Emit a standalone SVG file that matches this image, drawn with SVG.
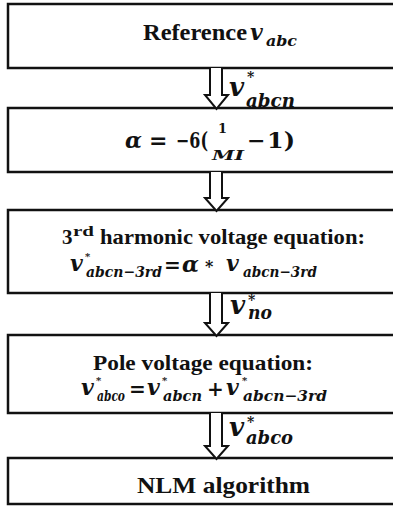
<svg xmlns="http://www.w3.org/2000/svg" width="393" height="513" viewBox="0 0 393 513">
<style>
.box{fill:#fff;stroke:#111;stroke-width:2.5}
.arr{fill:#fff;stroke:#111;stroke-width:2;stroke-linejoin:miter}
.t{font-family:"Liberation Serif","Times New Roman",serif;font-weight:bold;fill:#111}
.m{font-family:"DejaVu Serif",serif;font-weight:bold;font-style:italic;fill:#111}
.n{font-family:"DejaVu Serif",serif;font-weight:bold;font-style:normal;fill:#111}
</style>
<rect width="393" height="513" fill="#fff"/>
<g id="n1">
<rect class="box" x="8" y="4" width="400" height="64"/>
<text class="t" x="143" y="40" font-size="23" textLength="104" lengthAdjust="spacingAndGlyphs">Reference</text>
<text class="m" x="250" y="40" font-size="22">v<tspan x="266" y="46" font-size="15" textLength="31" lengthAdjust="spacingAndGlyphs">abc</tspan></text>
</g>
<g id="n2">
<rect class="box" x="8" y="108" width="400" height="64"/>
<text class="m" x="125" y="148" font-size="22">α<tspan class="n" x="149" y="148">=</tspan><tspan class="n" x="176" y="148" textLength="32" lengthAdjust="spacingAndGlyphs">−6(</tspan><tspan class="n" x="218" y="133" font-size="13">1</tspan><tspan x="212" y="160" font-size="13" textLength="32" lengthAdjust="spacingAndGlyphs">MI</tspan><tspan class="n" x="247" y="148">−</tspan><tspan class="n" x="267" y="148" textLength="28" lengthAdjust="spacingAndGlyphs">1)</tspan></text>
</g>
<g id="n3">
<rect class="box" x="8" y="210" width="400" height="83"/>
<text class="t" x="62" y="244" font-size="21">3<tspan x="73" y="236" font-size="15" textLength="21" lengthAdjust="spacingAndGlyphs">rd</tspan><tspan x="100" y="244" textLength="265" lengthAdjust="spacingAndGlyphs">harmonic voltage equation:</tspan></text>
<text class="m" x="70" y="271" font-size="22">v<tspan class="n" x="85" y="260" font-size="10">*</tspan><tspan x="86" y="277" font-size="15" textLength="76" lengthAdjust="spacingAndGlyphs">abcn−3rd</tspan><tspan class="n" x="164" y="272" font-size="20">=</tspan><tspan x="182" y="272">α</tspan><tspan class="n" x="205" y="272" font-size="16">*</tspan><tspan x="226" y="271">v</tspan><tspan x="243" y="277" font-size="15" textLength="74" lengthAdjust="spacingAndGlyphs">abcn−3rd</tspan></text>
</g>
<g id="n4">
<rect class="box" x="8" y="335" width="400" height="78"/>
<text class="t" x="93" y="370" font-size="21" textLength="220" lengthAdjust="spacingAndGlyphs">Pole voltage equation:</text>
<text class="m" x="81" y="395" font-size="22">v<tspan class="n" x="96" y="384" font-size="10">*</tspan><tspan x="97" y="401" font-size="15" textLength="28" lengthAdjust="spacingAndGlyphs">abco</tspan><tspan class="n" x="129" y="396" font-size="20">=</tspan><tspan x="147" y="395">v</tspan><tspan class="n" x="162" y="384" font-size="10">*</tspan><tspan x="163" y="401" font-size="15" textLength="39" lengthAdjust="spacingAndGlyphs">abcn</tspan><tspan class="n" x="207" y="396" font-size="20">+</tspan><tspan x="226" y="395">v</tspan><tspan class="n" x="242" y="384" font-size="10">*</tspan><tspan x="243" y="401" font-size="15" textLength="84" lengthAdjust="spacingAndGlyphs">abcn−3rd</tspan></text>
</g>
<g id="n5">
<rect class="box" x="8" y="458" width="400" height="46"/>
<text class="t" x="137" y="493" font-size="23" textLength="173" lengthAdjust="spacingAndGlyphs">NLM algorithm</text>
</g>
<g id="connectors">
<path class="arr" d="M210,68V95H205L216.5,109L228,95H222V68"/>
<path class="arr" d="M210,172V198H205L216.5,211L228,198H222V172"/>
<path class="arr" d="M210,293V323H205L216.5,336L228,323H222V293"/>
<path class="arr" d="M210,413V446H205L216.5,459L228,446H222V413"/>
<text id="label1" class="m" x="229" y="96" font-size="26">v<tspan class="n" x="247" y="82" font-size="14">*</tspan><tspan x="246" y="107" font-size="19" textLength="49" lengthAdjust="spacingAndGlyphs">abcn</tspan></text>
<text id="label3" class="m" x="230" y="314" font-size="26">v<tspan class="n" x="248" y="305" font-size="14">*</tspan><tspan x="248" y="319" font-size="19" textLength="24" lengthAdjust="spacingAndGlyphs">no</tspan></text>
<text id="label4" class="m" x="229" y="436" font-size="26">v<tspan class="n" x="247" y="427" font-size="14">*</tspan><tspan x="246" y="444" font-size="19" textLength="47" lengthAdjust="spacingAndGlyphs">abco</tspan></text>
</g>
</svg>
